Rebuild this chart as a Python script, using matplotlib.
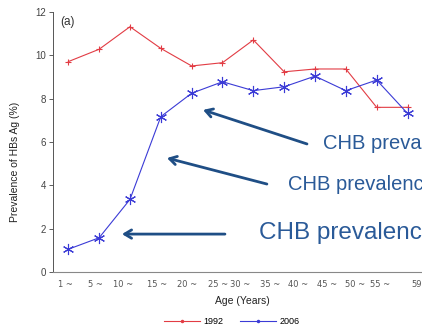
import matplotlib
matplotlib.use("Agg")
from matplotlib import pyplot as plt
from matplotlib.lines import Line2D

# values
ages = list(range(12))
prev_1992 = [9.71, 10.28, 11.32, 10.32, 9.51, 9.66, 10.71, 9.24, 9.37, 9.37, 7.60, 7.60]
prev_2006 = [1.05, 1.58, 3.35, 7.17, 8.25, 8.78, 8.37, 8.55, 9.04, 8.37, 8.86, 7.32]
age_labels = ["1 ~", "5 ~", "10 ~", "15 ~", "20 ~", "25 ~", "30 ~", "35 ~",
              "40 ~", "45 ~", "50 ~", "55 ~", "59"]
label_pos = [-0.33, 0.64, 1.45, 2.55, 3.52, 4.53, 5.24, 6.21, 7.12, 8.06, 8.97, 9.78, 11.14]

# annotation arrows: (tip, tail, text start, fontsize)
notes = [
    ((4.37, 7.48), (7.74, 5.91), (8.26, 5.95), 14.5),
    ((3.20, 5.26), (6.44, 4.06), (7.12, 4.06), 14.5),
    ((1.74, 1.75), (5.08, 1.75), (6.18, 1.80), 17.5),
]

red = "#e23c44"
blue = "#3b3bd6"
navy = "#1f4e85"
grey = "#444444"

plt.rcParams["font.family"] = ["Liberation Sans", "DejaVu Sans"]

fig = plt.figure(figsize=(4.22, 3.31), dpi=100)
ax = fig.add_axes([53 / 422, 59 / 331, 369 / 422, 260 / 331])

ax.plot(ages, prev_1992, color=red, lw=0.8, marker="+", markersize=5, mew=0.8)
ax.plot(ages, prev_2006, color=blue, lw=0.8, marker=(6, 2, 0), markersize=8, mew=0.8)

ax.set_xlim(-0.496, 11.47)
ax.set_ylim(0, 12)
ax.set_yticks(range(0, 13, 2))
ax.tick_params(axis="y", labelsize=7, colors=grey, length=3, width=0.6, pad=2)
ax.set_xticks(label_pos, age_labels, ha="left", family="DejaVu Sans")
ax.tick_params(axis="x", labelsize=6, colors="#555555", length=0, pad=6)
for s in ["top", "right"]:
    ax.spines[s].set_visible(False)
ax.spines["left"].set_color("#555555")
ax.spines["left"].set_linewidth(0.7)
ax.spines["bottom"].set_color("#888888")
ax.spines["bottom"].set_linewidth(0.8)

ax.text(0.02, 0.96, "(a)", transform=ax.transAxes, fontsize=8.5, color="#333333",
        ha="left", va="center")

fig.text(15 / 422, 1 - 162 / 331, "Prevalence of HBs Ag (%)", rotation=90,
         ha="center", va="center", fontsize=7.5, color="#222222")
fig.text(242 / 422, 1 - 301 / 331, "Age (Years)", ha="center", va="center",
         fontsize=7.5, color="#222222")

for tip, tail, txt, fs in notes:
    ax.annotate("", xy=tip, xytext=tail, annotation_clip=False,
                arrowprops=dict(arrowstyle="->,head_length=0.5,head_width=0.3",
                                color=navy, lw=2.0, shrinkA=0, shrinkB=0))
    ax.text(txt[0], txt[1], "CHB prevalence", fontsize=fs, color="#2a5a98",
            ha="left", va="center", clip_on=False)

handles = [Line2D([], [], color=red, lw=0.8, marker=".", markersize=3),
           Line2D([], [], color=blue, lw=0.8, marker=".", markersize=3)]
fig.legend(handles, ["1992", "2006"], loc="center", bbox_to_anchor=(232 / 422, 9 / 331),
           ncol=2, frameon=False, fontsize=6.5, handlelength=4, handletextpad=0.4,
           columnspacing=1.8)

fig.savefig("out.png", dpi=100)
